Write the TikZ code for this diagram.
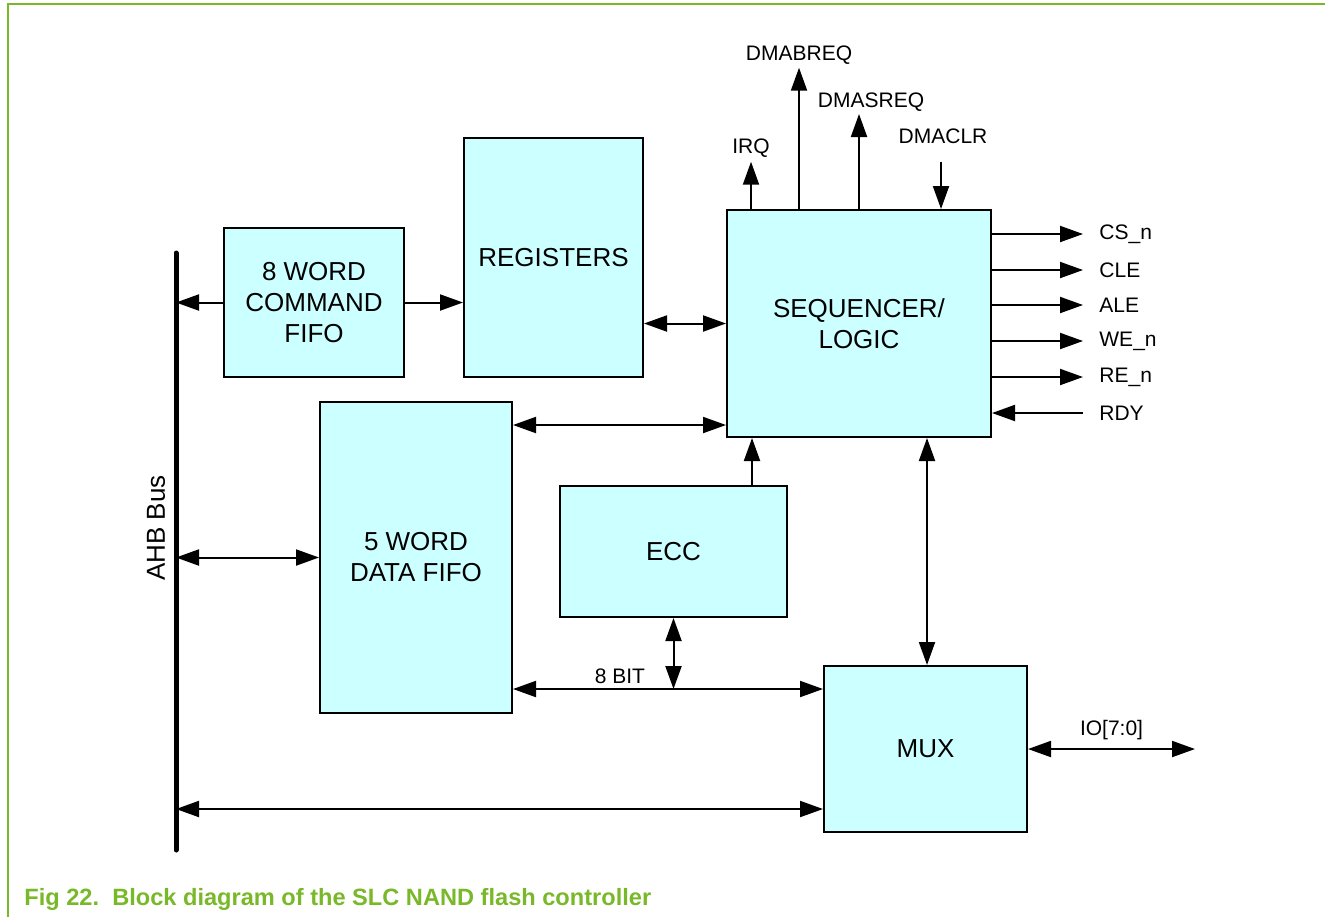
\documentclass[tikz,border=0pt]{standalone}
\usepackage{fontspec}
\setmainfont{Liberation Sans}
\usepackage{tikz}
\usetikzlibrary{arrows.meta, positioning}
\usepackage{xcolor}
\definecolor{blockcyan}{RGB}{204,255,255}
\definecolor{nxpgreen}{RGB}{121,184,40}
\tikzset{block/.style={rectangle, fill=blockcyan, draw=black, line width=1pt, align=center, font=\fontsize{13}{15.5}\selectfont},signal/.style={font=\fontsize{10.5}{12}\selectfont, inner sep=0pt}}
\tikzset{arr/.style={-{Triangle[length=11.5pt,width=8pt]}, line width=1pt},dbl/.style={{Triangle[length=11.5pt,width=8pt]}-{Triangle[length=11.5pt,width=8pt]}, line width=1pt}}

\begin{document}
\begin{tikzpicture}[x=0.5pt, y=-0.5pt]
        \useasboundingbox (0,0) rectangle (1325,917);
        % Frame
        \draw[nxpgreen, line width=1pt] (1325,4) -- (8,4) -- (8,917);
        % Bus
        \coordinate (ahbtop) at (176,253);
        \coordinate (ahbbot) at (176,850);
        \draw[line width=2.5pt, line cap=round] (ahbtop) -- (ahbbot);
        \node[rotate=90, font=\fontsize{13}{15.5}\selectfont] (ahblabel) at (156,528) {AHB Bus};
        % Blocks
        \node[block, minimum width=90pt, minimum height=74.5pt] (cmdfifo) at (314,302.5) {8 WORD\\COMMAND\\FIFO};
        \node[block, minimum width=89.5pt, minimum height=119.5pt] (registers) at (553.5,257.5) {REGISTERS};
        \node[block, minimum width=132pt, minimum height=113.5pt] (seqlogic) at (859,323.5) {SEQUENCER/\\LOGIC};
        \node[block, minimum width=96pt, minimum height=155.5pt] (datafifo) at (416,557.5) {5 WORD\\DATA FIFO};
        \node[block, minimum width=113.5pt, minimum height=65.5pt] (ecc) at (673.5,551.5) {ECC};
        \node[block, minimum width=101.5pt, minimum height=83pt] (mux) at (925.5,749) {MUX};
        % Internal connections
        \draw[arr] (cmdfifo.west) -- (cmdfifo.west -| ahbtop);
        \draw[arr] (cmdfifo.east) -- (cmdfifo.east -| registers.west);
        \draw[dbl] (registers.east |- seqlogic.west) -- (seqlogic.west);
        \draw[dbl] ([yshift=-12pt]datafifo.north east) -- ([yshift=-12pt]datafifo.north east -| seqlogic.west);
        \draw[dbl] (datafifo.west -| ahbtop) -- (datafifo.west);
        \draw[arr] ([xshift=39.25pt]ecc.north) -- ([xshift=39.25pt]ecc.north |- seqlogic.south);
        \draw[dbl] ([xshift=0.75pt]mux.north) -- ([xshift=0.75pt]mux.north |- seqlogic.south);
        \coordinate (bitbus) at (674,689);
        \draw[dbl] (datafifo.east |- bitbus) -- (mux.west |- bitbus) node[pos=0.345, above=2pt, signal] (bitlabel) {8 BIT};
        \draw[dbl] (ecc.south) -- (ecc.south |- bitbus);
        \draw[dbl] ([yshift=-30pt]mux.west -| ahbtop) -- ([yshift=-30pt]mux.west);
        % IO
        \coordinate (ioend) at (1195,749);
        \draw[dbl] (mux.east) -- (ioend) node[midway, above=4pt, signal] (iolabel) {IO[7:0]};
        % Top signals
        \node[signal] (irq) at (751,148) {IRQ};
        \node[signal] (dmabreq) at (799,55) {DMABREQ};
        \node[signal] (dmasreq) at (871,102) {DMASREQ};
        \node[signal] (dmaclr) at (943,136) {DMACLR};
        \draw[arr] (seqlogic.north -| irq) -- ([yshift=-2pt]irq.south);
        \draw[arr] (seqlogic.north -| dmabreq) -- ([yshift=-1.5pt]dmabreq.south);
        \coordinate (dmasreqtip) at (859,114);
        \draw[arr] (seqlogic.north -| dmasreqtip) -- (dmasreqtip);
        \draw[arr] ([xshift=-1pt, yshift=-9pt]dmaclr.south) -- ([xshift=-1pt]seqlogic.north -| dmaclr);
        % Right signals
        \foreach \y/\name in {234/CS\_n, 270/CLE, 305/ALE, 341/WE\_n, 377/RE\_n} {
            \node[signal, anchor=west] (sig\y) at (1099,\y) {\name};
            \draw[arr] (seqlogic.east |- sig\y.west) -- ([xshift=-8pt]sig\y.west);
        }
        \node[signal, anchor=west] (rdy) at (1099,413) {RDY};
        \draw[arr] ([xshift=-8pt]rdy.west) -- (seqlogic.east |- rdy.west);
        % Caption
        \node[anchor=west, inner sep=0pt, text=nxpgreen, font=\fontsize{11.8}{14}\selectfont\bfseries] (caption) at (24,899) {Fig 22.\ \ Block diagram of the SLC NAND flash controller};
    \end{tikzpicture}
\end{document}
